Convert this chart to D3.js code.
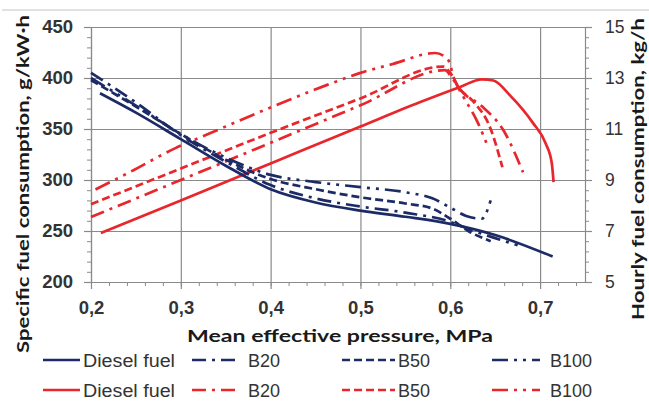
<!DOCTYPE html>
<html>
<head>
<meta charset="utf-8">
<script src="https://cdn.jsdelivr.net/npm/d3@7"></script>
<style>
  body { margin: 0; background: #fff; }
</style>
</head>
<body>
<div id="chart"></div>
<script>
// values: [mean effective pressure (MPa), value]
// specific fuel consumption, g/kW·h (left axis)
var sfcDiesel = [[0.21,385],[0.25,366],[0.3,340],[0.35,314],[0.4,291],[0.45,278],[0.5,270],[0.55,264],[0.6,257],[0.65,246],[0.714,225]]
var sfcB20    = [[0.2,405],[0.25,376],[0.3,344],[0.35,318],[0.4,295],[0.45,282],[0.5,274],[0.55,268],[0.6,259],[0.62,252],[0.65,243],[0.675,236]]
var sfcB50    = [[0.2,398],[0.25,372],[0.3,345],[0.35,320],[0.4,301],[0.45,291],[0.5,283],[0.55,277],[0.58,272],[0.6,262],[0.62,250],[0.645,240]]
var sfcB100   = [[0.2,400],[0.25,373],[0.3,345],[0.35,322],[0.4,305],[0.45,298],[0.5,293],[0.55,288],[0.58,282],[0.6,273],[0.617,265],[0.635,262],[0.645,280]]

// hourly fuel consumption, kg/h (right axis)
var hDiesel = [[0.211,6.92],[0.3,8.2],[0.4,9.65],[0.5,11.1],[0.566,12.05],[0.611,12.65],[0.635,12.95],[0.648,12.9],[0.667,12.3],[0.692,11.24],[0.706,10.45],[0.713,9.67],[0.715,8.92]]
var hB20    = [[0.2,7.55],[0.3,9.0],[0.4,10.46],[0.5,11.93],[0.594,13.31],[0.602,13.0],[0.612,12.5],[0.635,11.9],[0.66,10.9],[0.681,9.3]]
var hB50    = [[0.2,8.05],[0.3,9.45],[0.4,10.85],[0.5,12.2],[0.592,13.45],[0.6,13.2],[0.61,12.6],[0.625,12.1],[0.645,11.0],[0.658,9.5]]
var hB100   = [[0.205,8.63],[0.24,9.25],[0.294,10.25],[0.333,10.84],[0.388,11.67],[0.463,12.73],[0.5,13.2],[0.536,13.55],[0.583,13.98],[0.597,13.75],[0.605,12.9],[0.614,12.3],[0.63,11.3],[0.642,10.3]]

var xTicks = [0.2, 0.3, 0.4, 0.5, 0.6, 0.7]
var leftTicks = [200, 250, 300, 350, 400, 450]
var rightTicks = [5, 7, 9, 11, 13, 15]
var fuelNames = ["Diesel fuel", "B20", "B50", "B100"]

// line looks
var blue = "#1c2b66", red = "#e8262b"
var dashes = {"Diesel fuel": null, "B20": "14,6,3,6", "B50": "8,4", "B100": "16,6,3,6,3,6"}

var W = 649, H = 408
var margin = {top: 27, right: 64, bottom: 126, left: 91},
    width = W - margin.left - margin.right,
    height = H - margin.top - margin.bottom

var svg = d3.select("#chart").append("svg")
    .attr("width", W).attr("height", H)
    .style("font-family", "Lato, 'Open Sans', sans-serif")

// thin frame line at the top of the chart area
svg.append("line").attr("x1", 2).attr("x2", W).attr("y1", 10).attr("y2", 10)
    .attr("stroke", "#c4c4c4").attr("stroke-width", 1)

var g = svg.append("g").attr("transform", "translate(" + margin.left + "," + margin.top + ")")

var x = d3.scaleLinear().domain([0.2, 0.75]).range([0, width])
var yL = d3.scaleLinear().domain([200, 450]).range([height, 0])
var yR = d3.scaleLinear().domain([5, 15]).range([height, 0])

var gridColor = "#8a8a8a"

// grid
g.append("g").call(d3.axisLeft(yL).tickValues(leftTicks).tickSize(-width).tickFormat(""))
    .call(function(s) { s.select(".domain").remove(); s.selectAll("line").attr("stroke", gridColor).attr("stroke-width", 1.2) })
g.append("g").attr("transform", "translate(0," + height + ")")
    .call(d3.axisBottom(x).tickValues(xTicks).tickSize(-height).tickFormat(""))
    .call(function(s) { s.select(".domain").remove(); s.selectAll("line").attr("stroke", gridColor).attr("stroke-width", 1.2) })

// minor ticks
function minor(sel) { sel.select(".domain").remove(); sel.selectAll("line").attr("stroke", gridColor).attr("stroke-width", 1) }
g.append("g").call(d3.axisLeft(yL).tickValues(d3.range(200, 451, 10)).tickSize(4).tickFormat("")).call(minor)
g.append("g").attr("transform", "translate(" + width + ",0)")
    .call(d3.axisRight(yR).tickValues(d3.range(5, 15.01, 0.4)).tickSize(4).tickFormat("")).call(minor)
g.append("g").attr("transform", "translate(0," + height + ")")
    .call(d3.axisBottom(x).tickValues(d3.range(0.2, 0.741, 0.02)).tickSize(4).tickFormat("")).call(minor)

// main axes
function major(sel) {
  sel.select(".domain").attr("stroke", gridColor).attr("stroke-width", 1.2)
  sel.selectAll(".tick line").attr("stroke", gridColor).attr("stroke-width", 1.2)
  sel.selectAll("text").attr("fill", "#333")
}
g.append("g")
    .call(d3.axisLeft(yL).tickValues(leftTicks).tickSize(7).tickPadding(11).tickSizeOuter(0))
    .call(major)
    .selectAll("text").style("font-size", "18.5px").style("font-weight", "bold")
g.append("g").attr("transform", "translate(" + width + ",0)")
    .call(d3.axisRight(yR).tickValues(rightTicks).tickSize(7).tickPadding(13).tickSizeOuter(0))
    .call(major)
    .selectAll("text").style("font-size", "17.5px")
g.append("g").attr("transform", "translate(0," + height + ")")
    .call(d3.axisBottom(x).tickValues(xTicks).tickSize(7).tickPadding(12).tickSizeOuter(0)
        .tickFormat(function(d) { return d3.format(".1f")(d).replace(".", ","); }))
    .call(major)
    .selectAll("text").style("font-size", "18.5px").style("font-weight", "bold")

// axis titles
svg.append("text").attr("x", 340).attr("y", 342).attr("text-anchor", "middle")
    .attr("textLength", 306).attr("lengthAdjust", "spacingAndGlyphs")
    .style("font-size", "17.5px").style("font-weight", "bold").attr("fill", "#1a1a1a")
    .text("Mean effective pressure, MPa")
svg.append("text").attr("transform", "translate(29,184) rotate(-90)").attr("text-anchor", "middle")
    .attr("textLength", 338).attr("lengthAdjust", "spacingAndGlyphs")
    .style("font-size", "17.5px").style("font-weight", "bold").attr("fill", "#1a1a1a")
    .text("Specific fuel consumption, g/kW·h")
svg.append("text").attr("transform", "translate(644,169) rotate(-90)").attr("text-anchor", "middle")
    .attr("textLength", 302).attr("lengthAdjust", "spacingAndGlyphs")
    .style("font-size", "17.5px").style("font-weight", "bold").attr("fill", "#1a1a1a")
    .text("Hourly fuel consumption, kg/h")

// curves
var lineL = d3.line().x(function(d) { return x(d[0]) }).y(function(d) { return yL(d[1]) }).curve(d3.curveMonotoneX)
var lineR = d3.line().x(function(d) { return x(d[0]) }).y(function(d) { return yR(d[1]) }).curve(d3.curveMonotoneX)

var redSeries = [hDiesel, hB20, hB50, hB100]
var blueSeries = [sfcDiesel, sfcB20, sfcB50, sfcB100]

redSeries.forEach(function(s, i) {
  g.append("path").attr("d", lineR(s)).attr("fill", "none")
    .attr("stroke", red).attr("stroke-width", 2.7)
    .attr("stroke-dasharray", dashes[fuelNames[i]])
})
blueSeries.forEach(function(s, i) {
  g.append("path").attr("d", lineL(s)).attr("fill", "none")
    .attr("stroke", blue).attr("stroke-width", 2.7)
    .attr("stroke-dasharray", dashes[fuelNames[i]])
})

// legend: two rows, blue then red
var legendCols = [{x0: 43, x1: 80, tx: 83}, {x0: 192, x1: 237, tx: 248}, {x0: 342, x1: 395, tx: 398}, {x0: 492, x1: 540, tx: 550}]
var legendRows = [{y: 360, color: blue}, {y: 390, color: red}]
legendRows.forEach(function(r) {
  fuelNames.forEach(function(name, i) {
    var c = legendCols[i]
    svg.append("line").attr("x1", c.x0).attr("x2", c.x1).attr("y1", r.y).attr("y2", r.y)
      .attr("stroke", r.color).attr("stroke-width", 2.7)
      .attr("stroke-dasharray", dashes[name])
    var t = svg.append("text").attr("x", c.tx).attr("y", r.y + 6.5)
      .style("font-family", "'Liberation Sans', Arial, sans-serif").style("font-size", "18px")
      .attr("fill", "#333").text(name)
    if (i == 0) t.attr("textLength", 92).attr("lengthAdjust", "spacingAndGlyphs")
  })
})
</script>
</body>
</html>
